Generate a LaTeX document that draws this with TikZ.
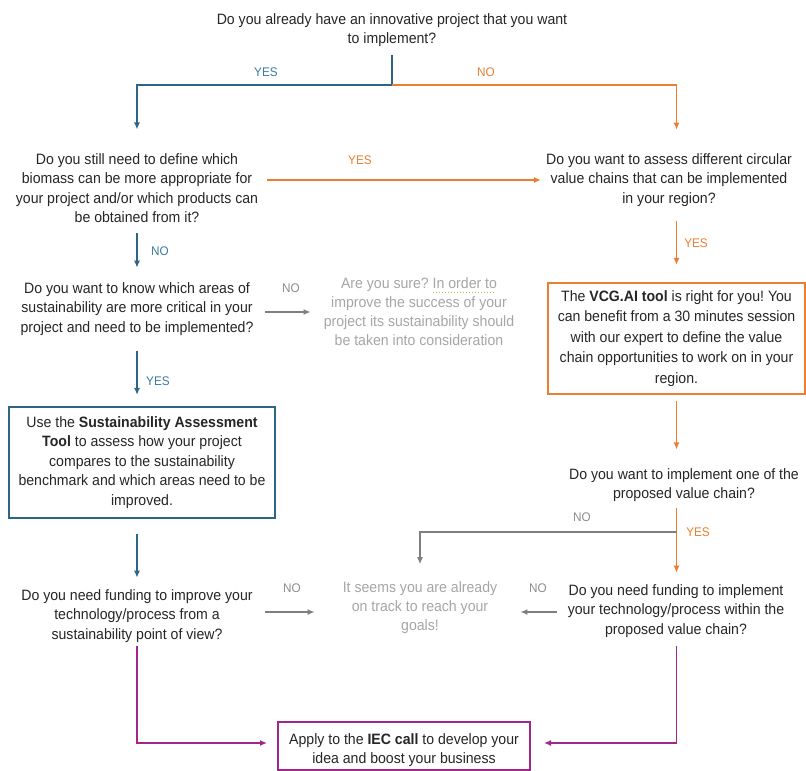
\documentclass[tikz,border=0pt]{standalone}
\usepackage{fontspec}
\setmainfont{Liberation Sans}[FakeStretch=0.94]
\usetikzlibrary{arrows.meta}
\definecolor{txt}{HTML}{262626}
\definecolor{gtxt}{HTML}{A6A6A6}
\definecolor{gline}{HTML}{7F7F7F}
\definecolor{glbl}{HTML}{8C8C8C}
\definecolor{bline}{HTML}{2D6585}
\definecolor{blbl}{HTML}{3B7BA3}
\definecolor{oline}{HTML}{ED7D31}
\definecolor{pline}{HTML}{9E2790}
\definecolor{ulc}{HTML}{C9B458}
\frenchspacing
\begin{document}
\begin{tikzpicture}[x=1pt,y=-1pt,
  q/.style={align=center, inner sep=0pt, text=txt, font=\fontsize{15}{19.5}\selectfont},
  gq/.style={align=center, inner sep=0pt, text=gtxt, font=\fontsize{15}{19}\selectfont},
  box/.style={draw, line width=2.2pt, align=center, inner sep=0pt, text=txt},
  lbl/.style={font=\fontsize{12.5}{14}\selectfont, inner sep=0pt},
  arr/.style={line width=1.9pt, -{Latex[length=7pt,width=6pt]}},
  plain/.style={line width=1.9pt}]
\fill[white] (0,0) rectangle (806,771);
\useasboundingbox (0,0) rectangle (806,771);

% question nodes
\node[q] (q1) at (392,30) {Do you already have an innovative project that you want\\to implement?};
\node[q] (q2) at (137,188) {Do you still need to define which\\biomass can be more appropriate for\\your project and/or which products can\\be obtained from it?};
\node[q] (q3) at (669,180) {Do you want to assess different circular\\value chains that can be implemented\\in your region?};
\node[q] (q4) at (137,309) {Do you want to know which areas of\\sustainability are more critical in your\\project and need to be implemented?};
\node[gq] (sure) at (419,312) {Are you sure? In order to\\improve the success of your\\project its sustainability should\\be taken into consideration};
\node[box, draw=oline, minimum width=257pt, minimum height=111pt, font=\fontsize{15}{20.5}\selectfont] (vcg) at (676.5,338.5) {The \textbf{VCG.AI tool} is right for you! You\\can benefit from a 30 minutes session\\with our expert to define the value\\chain opportunities to work on in your\\region.};
\node[box, draw=bline, minimum width=266pt, minimum height=111pt, font=\fontsize{15}{19.5}\selectfont] (sat) at (142,462.5) {Use the \textbf{Sustainability Assessment}\\\textbf{Tool} to assess how your project\\compares to the sustainability\\benchmark and which areas need to be\\improved.};
\node[q] (q7) at (684,485) {Do you want to implement one of the\\proposed value chain?};
\node[q] (q5) at (137,616) {Do you need funding to improve your\\technology/process from a\\sustainability point of view?};
\node[gq] (track) at (420,608) {It seems you are already\\on track to reach your\\goals!};
\node[q] (q6) at (676,611) {Do you need funding to implement\\your technology/process within the\\proposed value chain?};
\node[box, draw=pline, line width=2pt, minimum width=252pt, font=\fontsize{15}{19.5}\selectfont] (iec) at (404,746) {\rule{0pt}{22pt}Apply to the \textbf{IEC call} to develop your\\idea and boost your business\rule[-6pt]{0pt}{6pt}};

% spelling mark under "In order to"
\draw[ulc, line width=1pt, dotted] (433,292) -- (495,292);

% labels
\node[lbl, text=blbl] (lyes1) at (266,72) {YES};
\node[lbl, text=oline] (lno1) at (486,72) {NO};
\node[lbl, text=oline] (lyes2) at (360,160) {YES};
\node[lbl, text=blbl] (lno2) at (160,251) {NO};
\node[lbl, text=glbl] (lno3) at (291,288) {NO};
\node[lbl, text=oline] (lyes3) at (696,243) {YES};
\node[lbl, text=blbl] (lyes4) at (158,381) {YES};
\node[lbl, text=glbl] (lno4) at (582,517) {NO};
\node[lbl, text=oline] (lyes5) at (698,532) {YES};
\node[lbl, text=glbl] (lno5) at (292,588) {NO};
\node[lbl, text=glbl] (lno6) at (538,588) {NO};

% connectors
\coordinate (split) at (392,85);
\draw[plain, bline, shorten <=8.5pt] (q1.south) -- (split);
\draw[arr, bline, shorten >=23.6pt] (split) -| (q2.north);
\draw[arr, oline, shorten >=23.6pt] (split) -| (q3.north -| vcg.north);
\draw[arr, oline, shorten <=8.5pt, shorten >=5pt] ([yshift=8pt]q2.east) -- ([yshift=8pt]q2.east -| q3.west);
\draw[arr, bline, shorten <=10.5pt, shorten >=14.6pt] (q2.south) -- (q4.north);
\draw[arr, gline, shorten <=11pt, shorten >=13pt] ([yshift=-3pt]q4.east) -- ([yshift=-3pt]q4.east -| sure.west);
\draw[arr, bline, shorten <=15pt, shorten >=11pt] (q4.south) -- (q4.south |- sat.north);
\draw[arr, oline, shorten <=14pt, shorten >=17pt] (q3.south -| vcg.north) -- (vcg.north);
\draw[arr, oline, shorten <=6pt, shorten >=18.6pt] (vcg.south) -- (vcg.south |- q7.north);
\draw[arr, oline, shorten <=6.5pt, shorten >=11.6pt] (vcg.south |- q7.south) -- (vcg.south |- q6.north);
\coordinate (nob) at (676.5,532);
\draw[arr, gline, shorten >=17.6pt] (nob) -| (track.north);
\draw[arr, bline, shorten <=15pt, shorten >=11.6pt] (sat.south -| q5.north) -- (q5.north);
\draw[arr, gline, shorten <=12pt, shorten >=28pt] ([yshift=4pt]q5.east) -- ([yshift=4pt]q5.east -| track.west);
\draw[arr, gline, shorten <=11pt, shorten >=23pt] ([yshift=-1pt]q6.west) -- ([yshift=-1pt]q6.west -| track.east);
\draw[arr, pline, shorten <=3pt, shorten >=10pt] (q5.south) |- ([yshift=3pt]iec.west);
\draw[arr, pline, shorten <=8pt, shorten >=13pt] (q6.south -| vcg.south) |- ([yshift=3pt]iec.east);
\end{tikzpicture}
\end{document}
